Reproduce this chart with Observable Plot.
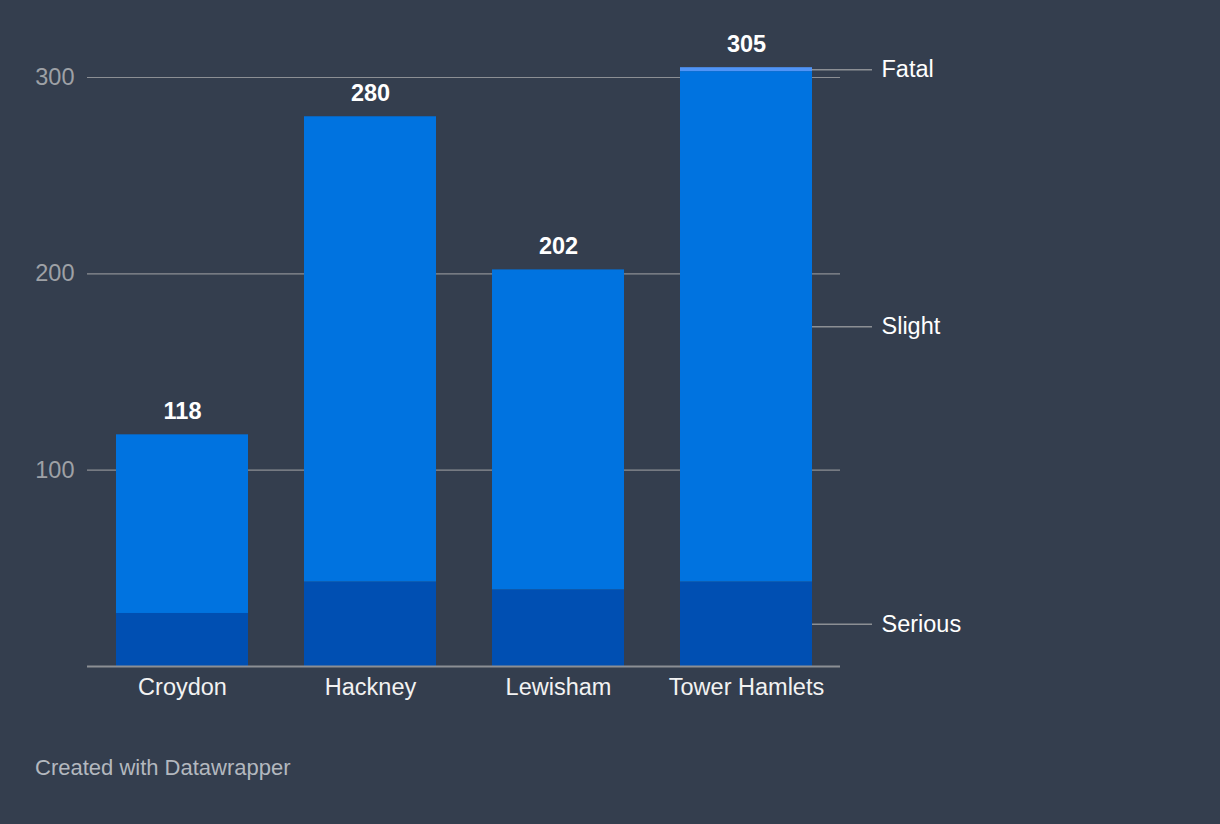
<!DOCTYPE html>
<html>
<head>
<meta charset="utf-8">
<script src="https://cdn.jsdelivr.net/npm/d3@7"></script>
<script src="https://cdn.jsdelivr.net/npm/@observablehq/plot@0.6"></script>
<style>
  html, body { margin: 0; padding: 0; background: #343e4e; }
  body { width: 1220px; height: 824px; position: relative; overflow: hidden; font-family: "Liberation Sans", Arial, sans-serif; }
  #chart { position: absolute; left: 0; top: 0; }
  #caption { position: absolute; left: 35px; top: 755px; font-size: 22px; color: #b3b8bf; }
</style>
</head>
<body>
<div id="chart"></div>
<div id="caption">Created with Datawrapper</div>
<script>
const boroughs = ["Croydon", "Hackney", "Lewisham", "Tower Hamlets"];
const types = ["Serious", "Slight", "Fatal"];
const serious = [27, 43, 39, 43];
const slight = [91, 237, 163, 260];
const fatal = [0, 0, 0, 2];
const yTicks = [100, 200, 300];
const colors = ["#004fb2", "#0073e0", "#4f94f7"];

const seriesValues = [serious, slight, fatal];
const rows = [];
boroughs.forEach((b, i) => {
  types.forEach((t, j) => rows.push({borough: b, type: t, value: seriesValues[j][i]}));
});
const totals = boroughs.map((b, i) => ({borough: b, total: serious[i] + slight[i] + fatal[i]}));

// side labels at midpoint of each segment of the last bar
const last = boroughs.length - 1;
let cum = 0;
const sideLabels = types.map((t, j) => {
  const v = seriesValues[j][last];
  const mid = cum + v / 2;
  cum += v;
  return {borough: boroughs[last], type: t, y: mid};
});

const chart = Plot.plot({
  width: 1220,
  height: 730,
  marginLeft: 87,
  marginRight: 380,
  marginTop: 77,
  marginBottom: 64,
  style: {background: "transparent", fontFamily: "Liberation Sans, Arial, sans-serif"},
  x: {domain: boroughs, paddingInner: 0.3, paddingOuter: 0.15, label: null},
  y: {domain: [0, 300], nice: false, label: null},
  color: {domain: types, range: colors},
  marks: [
    Plot.ruleY(yTicks, {stroke: "#8c8f94", strokeWidth: 1.2}),
    Plot.barY(rows, {x: "borough", y: "value", fill: "type", order: types}),
    Plot.ruleY([0], {stroke: "#8c8f94", strokeWidth: 2}),
    Plot.axisY(yTicks, {tickSize: 0, tickPadding: 13, fontSize: 23.5, fill: "#9ea1a6", label: null}),
    Plot.axisX({tickSize: 0, tickPadding: 12, fontSize: 23.5, fill: "#f2f2f2", label: null}),
    Plot.text(totals, {x: "borough", y: "total", text: d => String(d.total), dy: -23, fontSize: 23.5, fontWeight: "bold", fill: "#ffffff"}),
    Plot.tickY(sideLabels, {x: "borough", y: "y", stroke: "#8c8f94", strokeWidth: 1.5, insetLeft: 132, insetRight: -60}),
    Plot.text(sideLabels, {x: "borough", y: "y", text: "type", textAnchor: "start", dx: 135, fontSize: 23.5, fill: "#ffffff"})
  ]
});
document.getElementById("chart").appendChild(chart);
</script>
</body>
</html>
